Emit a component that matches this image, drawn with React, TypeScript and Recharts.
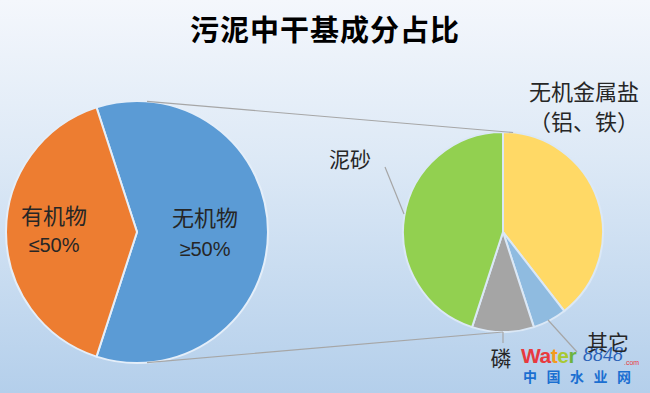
import { PieChart, Pie, Cell } from "recharts";

// left pie: 干基 split
const LEFT_NAMES = ["无机物", "有机物"];
const LEFT_VALUES = [60, 40];
const LEFT_COLORS = ["#5b9bd5", "#ed7d31"];
const LEFT_LABELS = ["≥50%", "≤50%"];

// right pie: breakdown of 无机物
const RIGHT_NAMES = ["无机金属盐", "其它", "磷", "泥砂"];
const RIGHT_VALUES = [39.5, 5.5, 10, 45];
const RIGHT_COLORS = ["#ffd966", "#8fbbe0", "#a5a5a5", "#92d050"];

const TITLE = "污泥中干基成分占比";

const W = 650;
const H = 393;
const LEFT = { cx: 137, cy: 232, r: 131 };
const RIGHT = { cx: 503, cy: 232, r: 100 };

const leftData = LEFT_NAMES.map((name, i) => ({ name, value: LEFT_VALUES[i] }));
const rightData = RIGHT_NAMES.map((name, i) => ({ name, value: RIGHT_VALUES[i] }));

// point on a circle, angle measured clockwise from 12 o'clock
function pt(g: { cx: number; cy: number; r: number }, deg: number, k = 1) {
  const a = (deg * Math.PI) / 180;
  return { x: g.cx + g.r * k * Math.sin(a), y: g.cy - g.r * k * Math.cos(a) };
}

const cjk = "'Noto Sans CJK SC', 'Noto Sans', sans-serif";
const textColor = "#262626";
const lineColor = "#a6a6a6";

export default function App() {
  const lt = pt(LEFT, 4.4);
  const lb = pt(LEFT, 175.6);
  const rt = pt(RIGHT, 5.8);
  const rb = pt(RIGHT, 180);

  return (
    <div
      style={{
        position: "fixed",
        left: 0,
        top: 0,
        width: W,
        height: H,
        background: "linear-gradient(to bottom, #f4f7fc 0%, #dde9f6 40%, #b4cfeb 100%)",
        overflow: "hidden",
      }}
    >
      <PieChart width={W} height={H} margin={{ top: 0, right: 0, bottom: 0, left: 0 }}>
        <Pie
          data={leftData}
          dataKey="value"
          nameKey="name"
          cx={LEFT.cx}
          cy={LEFT.cy}
          outerRadius={LEFT.r}
          startAngle={108}
          endAngle={-252}
          stroke="#e4eef9"
          strokeWidth={2}
          isAnimationActive={false}
        >
          {leftData.map((_d, i) => (
            <Cell key={i} fill={LEFT_COLORS[i]} />
          ))}
        </Pie>
        <Pie
          data={rightData}
          dataKey="value"
          nameKey="name"
          cx={RIGHT.cx}
          cy={RIGHT.cy}
          outerRadius={RIGHT.r}
          startAngle={90}
          endAngle={-270}
          stroke="#dbe8f6"
          strokeWidth={2}
          isAnimationActive={false}
        >
          {rightData.map((_d, i) => (
            <Cell key={i} fill={RIGHT_COLORS[i]} />
          ))}
        </Pie>
      </PieChart>

      <svg
        width={W}
        height={H}
        style={{ position: "absolute", left: 0, top: 0, pointerEvents: "none" }}
      >
        <text
          x={325}
          y={41}
          textAnchor="middle"
          fontFamily={cjk}
          fontSize={29}
          fontWeight={700}
          letterSpacing={1}
          fill="#000"
        >
          {TITLE}
        </text>

        {/* connector lines */}
        <line x1={lt.x} y1={lt.y} x2={rt.x} y2={rt.y} stroke={lineColor} strokeWidth={1.2} />
        <line x1={lb.x} y1={lb.y} x2={rb.x} y2={rb.y} stroke={lineColor} strokeWidth={1.2} />

        {/* left labels */}
        <text x={205} y={226} textAnchor="middle" fontFamily={cjk} fontSize={22} fill={textColor}>
          {LEFT_NAMES[0]}
        </text>
        <text x={205} y={256} textAnchor="middle" fontFamily="'Liberation Sans', Arial" fontSize={20} fill={textColor}>
          {LEFT_LABELS[0]}
        </text>
        <text x={54} y={224} textAnchor="middle" fontFamily={cjk} fontSize={22} fill={textColor}>
          {LEFT_NAMES[1]}
        </text>
        <text x={54} y={252} textAnchor="middle" fontFamily="'Liberation Sans', Arial" fontSize={20} fill={textColor}>
          {LEFT_LABELS[1]}
        </text>

        {/* right labels */}
        <text x={584} y={100} textAnchor="middle" fontFamily={cjk} fontSize={22} fill={textColor}>
          {RIGHT_NAMES[0]}
        </text>
        <text x={584} y={130} textAnchor="middle" fontFamily={cjk} fontSize={22} fill={textColor}>
          （铝、铁）
        </text>
        <text x={350} y={167} textAnchor="middle" fontFamily={cjk} fontSize={21} fill={textColor}>
          {RIGHT_NAMES[3]}
        </text>
        <polyline points="385,167 404,214" fill="none" stroke={lineColor} strokeWidth={1.2} />
        <text x={501} y={366} textAnchor="middle" fontFamily={cjk} fontSize={21} fill={textColor}>
          {RIGHT_NAMES[2]}
        </text>
        <line x1={rb.x} y1={rb.y} x2={rb.x} y2={343} stroke={lineColor} strokeWidth={1.2} />

        {/* watermark */}
        <text x={521} y={363} fontFamily="'Liberation Sans', Arial" fontSize={21} fontWeight={700} letterSpacing={-0.5}>
          <tspan fill="#e83a3f">Wa</tspan>
          <tspan fill="#f39a1e">t</tspan>
          <tspan fill="#a8c832">e</tspan>
          <tspan fill="#6cb33f">r</tspan>
        </text>
        <text x={583} y={361} fontFamily="'Liberation Serif', serif" fontSize={20} fontStyle="italic" fill="#2a62b8">
          8848
        </text>
        <text x={624} y={365} fontFamily="'Liberation Sans', Arial" fontSize={7} fill="#e83a3f">
          .com
        </text>
        <text x={523} y={382} fontFamily={cjk} fontSize={14} fontWeight={700} letterSpacing={9.5} fill="#1b6fd1">
          中国水业网
        </text>

        <text x={608} y={350} textAnchor="middle" fontFamily={cjk} fontSize={21} fill={textColor}>
          {RIGHT_NAMES[1]}
        </text>
        <line x1={548} y1={320} x2={577} y2={352} stroke={lineColor} strokeWidth={1.2} />
      </svg>
    </div>
  );
}
